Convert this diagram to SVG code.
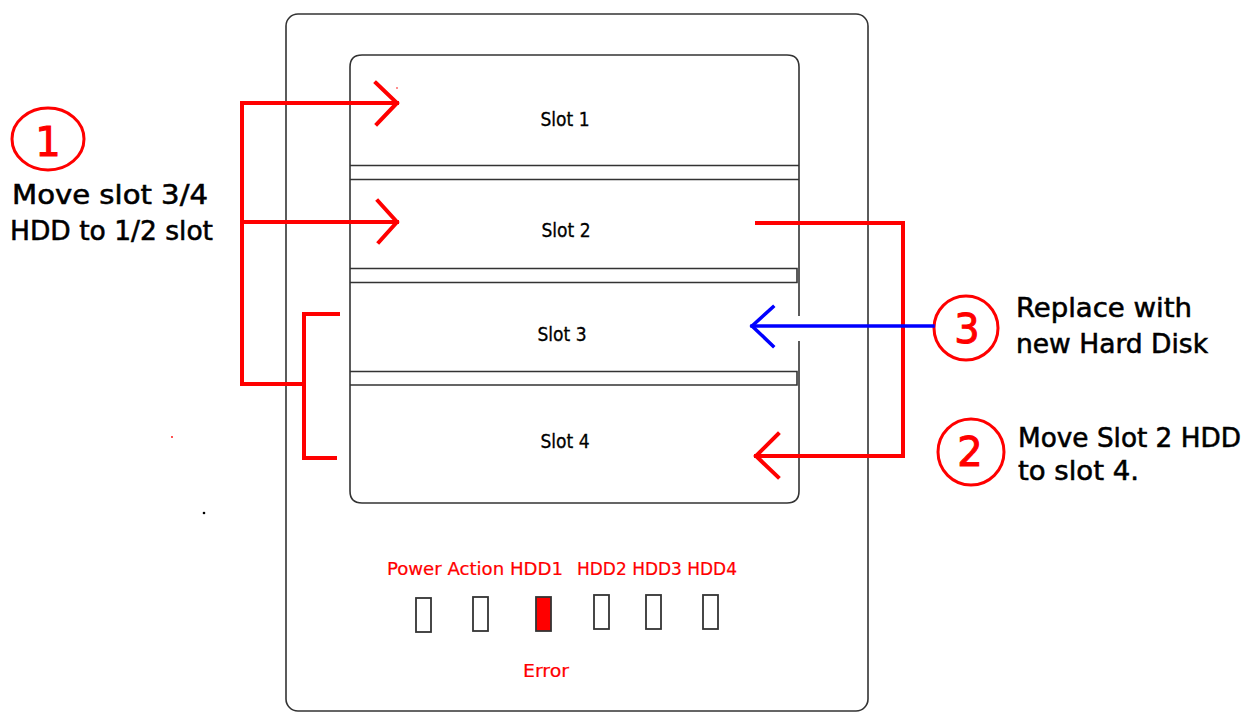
<svg xmlns="http://www.w3.org/2000/svg" width="1252" height="713" viewBox="0 0 1252 713">
<style>
.box{fill:none;stroke:#333;stroke-width:1.6}
.led{fill:#fff;stroke:#333;stroke-width:1.8}
.slot{font-family:"DejaVu Sans Condensed","DejaVu Sans",sans-serif;font-size:19px;fill:#000;stroke:#000;stroke-width:0.3;text-anchor:middle}
.note{font-family:"DejaVu Sans Condensed","DejaVu Sans",sans-serif;font-size:26px;fill:#000;stroke:#000;stroke-width:0.5}
.lbl{font-family:"DejaVu Sans Condensed","DejaVu Sans",sans-serif;font-size:18px;fill:#f00;stroke:#f00;stroke-width:0.2}
.num{font-family:"DejaVu Sans","Liberation Sans",sans-serif;font-size:40px;fill:#f00;stroke:#f00;stroke-width:1;text-anchor:middle}
.red{fill:none;stroke:#f00;stroke-width:4;stroke-linecap:square;stroke-linejoin:miter}
.blue{fill:none;stroke:#00f;stroke-width:3.5;stroke-linecap:square}
.ring{fill:none;stroke:#f00;stroke-width:3}
</style>
<rect width="1252" height="713" fill="#fff"/>
<g id="case">
<rect class="box" x="286" y="14" width="582" height="697" rx="12"/>
<path class="box" d="M350,491 V67 Q350,55 362,55 H787 Q799,55 799,67 V316 M799,341 V491 Q799,503 787,503 H362 Q350,503 350,491"/>
<line class="box" x1="350" y1="165.5" x2="799" y2="165.5"/>
<line class="box" x1="350" y1="179.5" x2="799" y2="179.5"/>
<path class="box" d="M350,268.5 H797 V282.5 H350"/>
<path class="box" d="M350,371.5 H797 V385 H350"/>
</g>
<g id="slot1"><text class="slot" x="565" y="126">Slot 1</text></g>
<g id="slot2"><text class="slot" x="566" y="237">Slot 2</text></g>
<g id="slot3"><text class="slot" x="562" y="341">Slot 3</text></g>
<g id="slot4"><text class="slot" x="565" y="448">Slot 4</text></g>
<g id="leds">
<text class="lbl" x="387" y="575" textLength="176" lengthAdjust="spacingAndGlyphs">Power Action HDD1</text>
<text class="lbl" x="577" y="575" textLength="160" lengthAdjust="spacingAndGlyphs">HDD2 HDD3 HDD4</text>
<rect class="led" x="416" y="598" width="15" height="34"/>
<rect class="led" x="473" y="597" width="15" height="34"/>
<rect class="led" x="536" y="597" width="15" height="34" style="fill:#f00"/>
<rect class="led" x="594" y="595" width="15" height="34"/>
<rect class="led" x="646" y="595" width="15" height="34"/>
<rect class="led" x="703" y="595" width="15" height="34"/>
<text class="lbl" x="523" y="677" textLength="46" lengthAdjust="spacingAndGlyphs">Error</text>
</g>
<g id="step1">
<ellipse class="ring" cx="48" cy="139" rx="36" ry="31"/>
<text class="num" x="48" y="156">1</text>
<text class="note" x="12" y="204" textLength="196" lengthAdjust="spacingAndGlyphs">Move slot 3/4</text>
<text class="note" x="10" y="240" textLength="203" lengthAdjust="spacingAndGlyphs">HDD to 1/2 slot</text>
</g>
<g id="step3">
<circle class="ring" cx="966" cy="328" r="32"/>
<text class="num" x="967" y="343">3</text>
<text class="note" x="1016" y="317" textLength="176" lengthAdjust="spacingAndGlyphs">Replace with</text>
<text class="note" x="1016" y="353" textLength="192" lengthAdjust="spacingAndGlyphs">new Hard Disk</text>
</g>
<g id="step2">
<circle class="ring" cx="971" cy="452" r="33"/>
<text class="num" x="970" y="466">2</text>
<text class="note" x="1018" y="447" textLength="223" lengthAdjust="spacingAndGlyphs">Move Slot 2 HDD</text>
<text class="note" x="1018" y="480" textLength="121" lengthAdjust="spacingAndGlyphs">to slot 4.</text>
</g>
<g id="connectors">
<path class="red" d="M397,103 H242 V384 H304"/>
<path class="red" d="M242,222 H397"/>
<path class="red" d="M338,314 H304 V458 H335"/>
<path class="red" d="M376,83 L397,103 L377,124"/>
<path class="red" d="M378,201 L397,222 L379,242"/>
<path class="red" d="M757,223 H903 V456 H756"/>
<path class="red" d="M778,434 L756,456 L778,477"/>
<path class="blue" d="M933,326 H752"/>
<path class="blue" d="M773,307 L752,326 L773,346"/>
</g>
<circle cx="204" cy="513" r="1.3" fill="#000"/>
<circle cx="172" cy="437" r="0.9" fill="#f00"/>
<circle cx="397" cy="88" r="0.8" fill="#f00"/>
</svg>
